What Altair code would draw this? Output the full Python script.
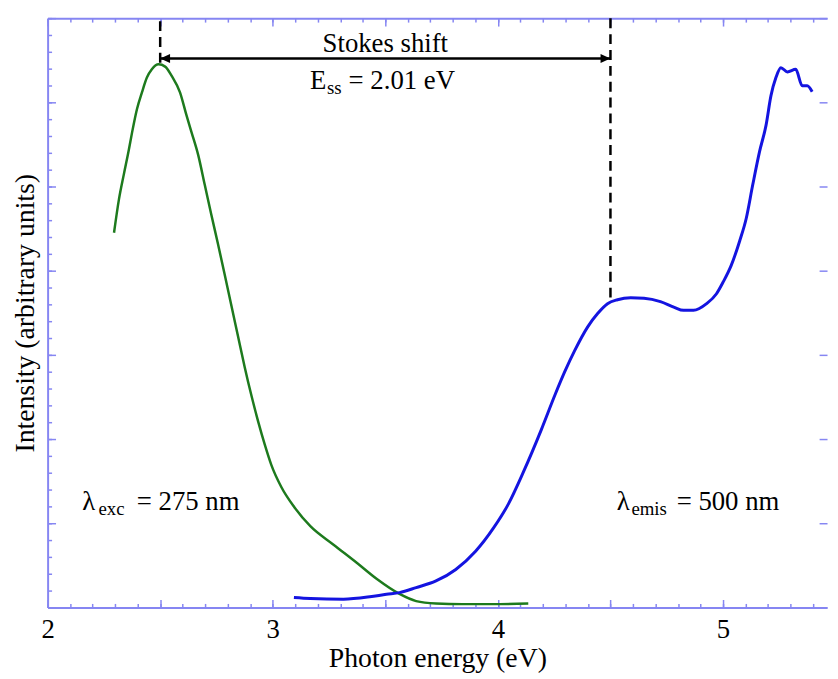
import altair as alt
import pandas as pd

# ---------------- data ----------------
# Excitation spectrum (green)
exc_x = [2.295, 2.317, 2.339, 2.361, 2.375, 2.397, 2.419, 2.441, 2.463, 2.493,
         2.522, 2.551, 2.588, 2.617, 2.639, 2.669, 2.698, 2.727, 2.757, 2.786,
         2.815, 2.845, 2.875, 2.905, 2.935, 2.965, 2.994, 3.038, 3.096, 3.167,
         3.270, 3.373, 3.461, 3.563, 3.637, 3.725, 3.842, 3.974, 4.135]
exc_y = [4.451, 4.850, 5.150, 5.440, 5.640, 5.921, 6.118, 6.294, 6.392, 6.451,
         6.424, 6.314, 6.118, 5.844, 5.647, 5.373, 5.020, 4.667, 4.314, 3.961,
         3.600, 3.230, 2.860, 2.520, 2.210, 1.930, 1.690, 1.430, 1.190, 0.965,
         0.745, 0.530, 0.340, 0.160, 0.075, 0.047, 0.039, 0.039, 0.047]

# Emission spectrum (blue)
emi_x = [3.094, 3.167, 3.314, 3.431, 3.505, 3.563, 3.637, 3.725, 3.813, 3.901,
         3.980, 4.047, 4.112, 4.194, 4.253, 4.297, 4.341, 4.399, 4.443, 4.487,
         4.531, 4.590, 4.649, 4.722, 4.781, 4.825, 4.869, 4.927, 4.971, 5.000,
         5.036, 5.074, 5.103, 5.132, 5.162, 5.191, 5.213, 5.235, 5.257, 5.286,
         5.323, 5.352, 5.374, 5.396]
emi_y = [0.118, 0.106, 0.098, 0.126, 0.156, 0.176, 0.235, 0.314, 0.451, 0.667,
         0.941, 1.230, 1.600, 2.118, 2.520, 2.800, 3.050, 3.333, 3.491, 3.608,
         3.655, 3.679, 3.673, 3.633, 3.568, 3.529, 3.529, 3.608, 3.726, 3.862,
         4.060, 4.353, 4.620, 5.020, 5.412, 5.726, 6.079, 6.294, 6.412, 6.361,
         6.392, 6.196, 6.196, 6.126]

# Stokes-shift markers
dash_x = [2.5, 4.5]
dash_y_low = [6.47, 3.68]
dash_y_high = [7.0, 7.0]
arrow_x = [2.5, 4.5]
arrow_y = [6.52, 6.52]
arrow_shape = ["M0,0L2,-0.9L2,0.9Z", "M0,0L-2,-0.9L-2,0.9Z"]

# Annotation pieces (text, anchor x, baseline y, font size)
ann_text = ["λ", "exc", "= 275 nm", "λ", "emis", "= 500 nm", "E", "ss", "= 2.01 eV"]
ann_x = [2.154, 2.226, 2.396, 4.528, 4.593, 4.794, 3.166, 3.241, 3.337]
ann_y = [1.153, 1.094, 1.153, 1.153, 1.094, 1.153, 6.153, 6.094, 6.153]
ann_size = [27, 19, 27, 27, 19, 27, 27, 19, 27]
title_text = ["Stokes shift"]
title_x = [3.5]
title_y = [6.596]

# Axis tick values
label_x = [2, 3, 4, 5]
minor_x = [round(2.0 + 0.1 * i, 1) for i in range(35)]
half_x = [2.0, 2.5, 3.0, 3.5, 4.0, 4.5, 5.0]
minor_y = [round(0.2 * i, 1) for i in range(36)]
major_y = [0, 1, 2, 3, 4, 5, 6, 7]

# ---------------- styling ----------------
W, H = 787, 595
X_MAX = 5.462
SERIF = "'Liberation Serif', 'Times New Roman', Times, serif"
FRAME = "#8686f2"
GREEN = "#1d7a1d"
BLUE = "#1414e0"

xs = alt.Scale(domain=[2.0, X_MAX], nice=False, zero=False)
ys = alt.Scale(domain=[0.0, 7.0], nice=False, zero=False)


def frame_axis(orient, offset, values, size, domain):
    return alt.Axis(orient=orient, offset=offset, values=values, domain=domain,
                    domainColor=FRAME, domainWidth=2, ticks=True, tickColor=FRAME,
                    tickWidth=1.5, tickSize=size, labels=False, grid=False, title=None)


axA = alt.Axis(orient="bottom", values=label_x, domain=False, ticks=False, tickSize=0,
               grid=False, labelFont=SERIF, labelFontSize=27, labelColor="black",
               labelPadding=9, labelFlush=False, format="d",
               title="Photon energy (eV)", titleFont=SERIF, titleFontSize=28,
               titleFontWeight="normal", titleColor="black", titlePadding=3)
axB = frame_axis("top", -H, minor_x, 4, True)      # bottom frame, inward minor ticks
axC = frame_axis("top", -H, half_x, 8, False)      # bottom frame, inward half ticks
axD = frame_axis("bottom", -H, minor_x, 4, True)   # top frame, inward minor ticks
axE = frame_axis("bottom", -H, half_x, 8, False)   # top frame, inward half ticks

axF = alt.Axis(orient="left", domain=False, ticks=False, tickSize=0, labels=False,
               grid=False, title="Intensity (arbitrary units)", titleFont=SERIF,
               titleFontSize=28, titleFontWeight="normal", titleColor="black",
               titlePadding=8)
axG = frame_axis("right", -W, minor_y, 4, True)    # left frame, inward minor ticks
axH = frame_axis("right", -W, major_y, 8, False)   # left frame, inward major ticks
axI = frame_axis("left", -W, major_y, 8, False)    # right side ticks

exc_df = pd.DataFrame({"x": exc_x, "y": exc_y})
emi_df = pd.DataFrame({"x": emi_x, "y": emi_y})
dash_df = pd.DataFrame({"x": dash_x, "y": dash_y_low, "y2": dash_y_high})
arrow_df = pd.DataFrame({"x": arrow_x, "y": arrow_y, "shape": arrow_shape})
ann_df = pd.DataFrame({"x": ann_x, "y": ann_y, "text": ann_text, "size": ann_size})
title_df = pd.DataFrame({"x": title_x, "y": title_y, "text": title_text})

green = alt.Chart(exc_df).mark_line(color=GREEN, strokeWidth=2.5,
                                    interpolate="monotone").encode(
    x=alt.X("x:Q", scale=xs, axis=axA),
    y=alt.Y("y:Q", scale=ys, axis=axF),
)
blue = alt.Chart(emi_df).mark_line(color=BLUE, strokeWidth=3,
                                   interpolate="monotone").encode(
    x=alt.X("x:Q", scale=xs, axis=axB),
    y=alt.Y("y:Q", scale=ys, axis=axG),
)
dashes = alt.Chart(dash_df).mark_rule(color="black", strokeWidth=2.5,
                                      strokeDash=[10, 6]).encode(
    x=alt.X("x:Q", scale=xs, axis=axC),
    y=alt.Y("y:Q", scale=ys, axis=axH),
    y2="y2:Q",
)
arrow_line = alt.Chart(arrow_df).mark_line(color="black", strokeWidth=2.5).encode(
    x=alt.X("x:Q", scale=xs, axis=axD),
    y=alt.Y("y:Q", scale=ys, axis=axI),
)
arrow_heads = alt.Chart(arrow_df).mark_point(filled=True, color="black", opacity=1,
                                             size=100).encode(
    x=alt.X("x:Q", scale=xs, axis=axE),
    y=alt.Y("y:Q", scale=ys, axis=None),
    shape=alt.Shape("shape:N", scale=None),
)
annotations = alt.Chart(ann_df).mark_text(font=SERIF, align="left",
                                          baseline="alphabetic", color="black").encode(
    x=alt.X("x:Q", scale=xs, axis=None),
    y=alt.Y("y:Q", scale=ys, axis=None),
    text="text:N",
    size=alt.Size("size:Q", scale=None),
)
stokes = alt.Chart(title_df).mark_text(font=SERIF, align="center", baseline="alphabetic",
                                       color="black", fontSize=27).encode(
    x=alt.X("x:Q", scale=xs, axis=None),
    y=alt.Y("y:Q", scale=ys, axis=None),
    text="text:N",
)

chart = alt.layer(green, blue, dashes, arrow_line, arrow_heads, annotations, stokes).resolve_axis(
    x="independent", y="independent"
).properties(
    width=W, height=H,
    autosize=alt.AutoSizeParams(type="none"),
    padding={"left": 40, "top": 7, "right": 3, "bottom": 64},
).configure_view(strokeWidth=0)

chart.save("out.html", embed_options={"renderer": "svg", "actions": False})
